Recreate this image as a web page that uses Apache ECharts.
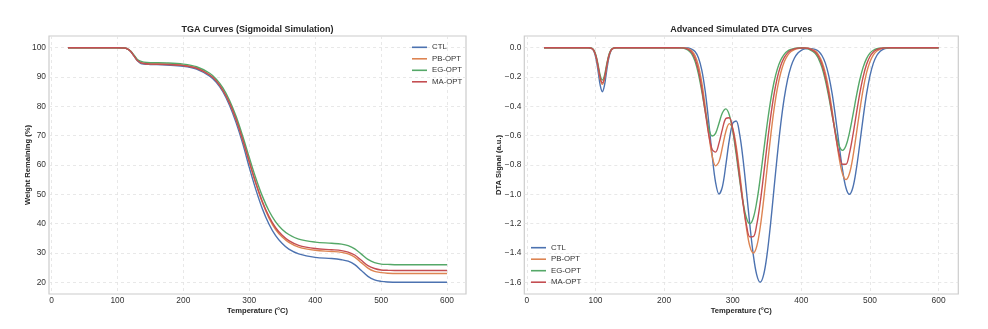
<!DOCTYPE html>
<html>
<head>
<meta charset="utf-8">
<script src="https://cdn.jsdelivr.net/npm/echarts@6.0.0/dist/echarts.min.js"></script>
<style>
html, body { margin: 0; padding: 0; background: #ffffff; }
#chart { width: 988px; height: 329px; }
</style>
</head>
<body>
<div id="chart"></div>
<script>
// ---------------- data ----------------
const seriesNames = ['CTL', 'PB-OPT', 'EG-OPT', 'MA-OPT'];
const xTicks = [0, 100, 200, 300, 400, 500, 600];
const tgaYTicks = [20, 30, 40, 50, 60, 70, 80, 90, 100];
const dtaYTicks = [-1.6, -1.4, -1.2, -1.0, -0.8, -0.6, -0.4, -0.2, 0.0];

// TGA: temperature (°C) and weight remaining (%)
const tgaTemp = [25, 50, 75, 100, 110, 115, 120, 125, 130, 135, 140, 150, 175, 200, 220, 240,
  250, 260, 270, 280, 290, 300, 310, 320, 330, 340, 350, 360, 375, 400, 425,
  440, 450, 460, 470, 480, 490, 500, 510, 525, 550, 575, 600];
const tgaCTL = [100, 100, 100, 100, 99.9, 99.6, 98.7, 97.2, 95.6, 94.7, 94.4, 94.3, 94.1, 93.7, 92.7, 90.3,
  88.2, 85.0, 80.4, 74.5, 67.4, 59.2, 51.6, 45.0, 39.8, 35.9, 33.2, 31.3, 29.7, 28.5, 28.1,
  27.7, 27.2, 26.0, 24.0, 22.0, 20.8, 20.3, 20.1, 20.0, 20.0, 20.0, 20.0];
const tgaPB = [100, 100, 100, 100, 99.9, 99.6, 98.8, 97.3, 95.8, 95.0, 94.7, 94.5, 94.4, 94.0, 93.1, 90.7,
  88.7, 85.5, 81.2, 75.5, 68.5, 61.0, 53.6, 47.1, 41.9, 38.0, 35.4, 33.6, 32.0, 30.9, 30.5,
  30.2, 29.7, 28.6, 26.7, 24.8, 23.7, 23.3, 23.1, 23.0, 23.0, 23.0, 23.0];
const tgaEG = [100, 100, 100, 100, 99.9, 99.6, 98.9, 97.5, 96.1, 95.4, 95.1, 94.9, 94.8, 94.4, 93.5, 91.3,
  89.3, 86.3, 82.1, 76.6, 69.9, 62.6, 55.5, 49.3, 44.3, 40.6, 38.0, 36.3, 34.7, 33.7, 33.3,
  33.0, 32.5, 31.4, 29.6, 27.8, 26.7, 26.2, 26.1, 26.0, 26.0, 26.0, 26.0];
const tgaMA = [100, 100, 100, 100, 99.9, 99.6, 98.8, 97.3, 95.7, 94.9, 94.6, 94.4, 94.3, 93.9, 93.0, 90.7,
  88.7, 85.5, 81.2, 75.6, 68.7, 61.2, 53.9, 47.5, 42.4, 38.6, 36.0, 34.2, 32.6, 31.5, 31.1,
  30.8, 30.3, 29.3, 27.5, 25.7, 24.7, 24.2, 24.1, 24.0, 24.0, 24.0, 24.0];

// DTA: temperature (°C) and signal (a.u.)
const dtaTemp = [25, 50, 75, 85, 90, 95, 98, 101, 104, 107, 110, 113, 116, 119, 122, 125, 130, 135, 150, 175, 200,
  210, 220, 225, 230, 235, 240, 245, 250, 255, 260, 265, 270, 275, 280, 285, 290, 295, 300, 305, 310,
  315, 320, 325, 330, 335, 340, 345, 350, 355, 360, 365, 370, 375, 380, 385, 390, 395, 400,
  405, 410, 420, 425, 430, 435, 440, 445, 450, 455, 460, 465, 470, 475, 480, 485, 490, 495, 500,
  505, 510, 515, 520, 525, 530,
  540, 550, 575, 600];
const dtaCTL = [0, 0, 0, 0, 0, -0.007, -0.028, -0.079, -0.166, -0.259, -0.300, -0.259, -0.166, -0.079, -0.028, -0.007, 0, 0, 0, 0, 0,
  0, 0, 0, -0.001, -0.002, -0.009, -0.026, -0.068, -0.154, -0.300, -0.505, -0.733, -0.918, -0.998, -0.947, -0.799, -0.631, -0.516, -0.500, -0.588,
  -0.759, -0.979, -1.210, -1.413, -1.550, -1.600, -1.550, -1.412, -1.208, -0.970, -0.733, -0.520, -0.346, -0.216, -0.127, -0.070, -0.036, -0.018,
  -0.008, -0.005, -0.011, -0.024, -0.053, -0.105, -0.192, -0.317, -0.480, -0.662, -0.832, -0.955, -1.000, -0.955, -0.832, -0.662, -0.480, -0.317, -0.192,
  -0.105, -0.053, -0.024, -0.010, -0.004, -0.001,
  0, 0, 0, 0];
const dtaPB = [0, 0, 0, 0, 0, -0.006, -0.023, -0.066, -0.138, -0.216, -0.250, -0.216, -0.138, -0.066, -0.023, -0.006, 0, 0, 0, 0, 0,
  0, 0, 0, -0.002, -0.007, -0.021, -0.054, -0.123, -0.240, -0.403, -0.586, -0.737, -0.806, -0.777, -0.678, -0.571, -0.518, -0.551, -0.670, -0.848,
  -1.048, -1.229, -1.355, -1.400, -1.355, -1.227, -1.041, -0.827, -0.615, -0.428, -0.279, -0.171, -0.098, -0.052, -0.026, -0.012, -0.005, -0.002,
  -0.001, -0.003, -0.022, -0.048, -0.095, -0.172, -0.285, -0.432, -0.595, -0.749, -0.860, -0.900, -0.860, -0.749, -0.595, -0.432, -0.285, -0.172, -0.095,
  -0.048, -0.022, -0.009, -0.003, -0.001, 0,
  0, 0, 0, 0];
const dtaEG = [0, 0, 0, 0, 0, -0.005, -0.020, -0.058, -0.121, -0.190, -0.220, -0.190, -0.121, -0.058, -0.020, -0.005, 0, 0, 0, 0, 0,
  0, 0, -0.001, -0.005, -0.016, -0.040, -0.091, -0.178, -0.300, -0.436, -0.549, -0.602, -0.584, -0.515, -0.444, -0.417, -0.458, -0.568, -0.725, -0.898,
  -1.054, -1.161, -1.200, -1.161, -1.052, -0.893, -0.709, -0.527, -0.367, -0.239, -0.146, -0.084, -0.045, -0.022, -0.011, -0.005, -0.002, -0.002,
  -0.003, -0.007, -0.037, -0.074, -0.134, -0.222, -0.336, -0.463, -0.582, -0.669, -0.700, -0.669, -0.582, -0.463, -0.336, -0.222, -0.134, -0.074, -0.037,
  -0.017, -0.007, -0.003, -0.001, 0, 0,
  0, 0, 0, 0];
const dtaMA = [0, 0, 0, 0, 0, -0.006, -0.022, -0.063, -0.132, -0.207, -0.240, -0.207, -0.132, -0.063, -0.022, -0.006, 0, 0, 0, 0, 0,
  0, 0, -0.001, -0.003, -0.011, -0.030, -0.074, -0.155, -0.280, -0.438, -0.592, -0.694, -0.712, -0.651, -0.555, -0.483, -0.478, -0.554, -0.698, -0.880,
  -1.062, -1.208, -1.290, -1.289, -1.207, -1.058, -0.869, -0.668, -0.481, -0.324, -0.204, -0.121, -0.067, -0.035, -0.017, -0.008, -0.003, -0.002,
  -0.002, -0.005, -0.029, -0.060, -0.115, -0.200, -0.316, -0.456, -0.600, -0.722, -0.795, -0.795, -0.722, -0.600, -0.456, -0.316, -0.200, -0.115, -0.060,
  -0.029, -0.013, -0.005, -0.002, -0.001, 0,
  0, 0, 0, 0];

// ---------------- styling ----------------
const colors = ['#4C72B0', '#DD8452', '#55A868', '#C44E52'];
const FONT = 'Liberation Sans, Arial, sans-serif';
const TEXT = '#262626';

function zip(xs, ys) { return ys.map((v, i) => [xs[i], v]); }
function fmtMinus(v) {
  const s = Math.abs(v).toFixed(1);
  return (v < -1e-9 ? '\u2212' : '') + s;
}

const gridLine = { show: true, lineStyle: { color: '#e3e3e3', width: 0.8, type: [3, 3] } };
const nameStyle = { fontFamily: FONT, fontSize: 7.6, fontWeight: 'bold', color: TEXT };
const tickStyle = { fontFamily: FONT, fontSize: 8.4, color: '#333333', margin: 3 };

function xAxisCfg(gridIndex) {
  return {
    type: 'value', gridIndex, min: -3.75, max: 628.75,
    name: 'Temperature (°C)', nameLocation: 'middle', nameGap: 13, nameMoveOverlap: false,
    nameTextStyle: nameStyle,
    axisLine: { show: false }, axisTick: { show: false, customValues: xTicks },
    axisLabel: Object.assign({ customValues: xTicks }, tickStyle),
    splitLine: gridLine
  };
}

function legendCfg(left, top, w) {
  return {
    data: seriesNames.map(n => ({ name: n, icon: 'rect' })), orient: 'vertical', left, top,
    padding: 0, itemWidth: w, itemHeight: 1.6, itemGap: 3.5,
    textStyle: { fontFamily: FONT, fontSize: 7.8, color: '#333', lineHeight: 8 },
    selectedMode: false
  };
}

const option = {
  animation: false,
  backgroundColor: '#ffffff',
  color: colors,
  title: [
    { text: 'TGA Curves (Sigmoidal Simulation)', left: 257.5, top: 25, textAlign: 'center', padding: 0,
      textStyle: { fontFamily: FONT, fontSize: 9, fontWeight: 'bold', color: TEXT } },
    { text: 'Advanced Simulated DTA Curves', left: 741.3, top: 25, textAlign: 'center', padding: 0,
      textStyle: { fontFamily: FONT, fontSize: 9, fontWeight: 'bold', color: TEXT } }
  ],
  legend: [legendCfg(412, 43.3, 15), legendCfg(531, 243.7, 15)],
  grid: [
    { left: 49, top: 36, width: 417, height: 258, show: true, borderColor: '#cccccc', borderWidth: 1.2, backgroundColor: 'transparent' },
    { left: 524.3, top: 36, width: 434, height: 258, show: true, borderColor: '#cccccc', borderWidth: 1.2, backgroundColor: 'transparent' }
  ],
  xAxis: [xAxisCfg(0), xAxisCfg(1)],
  yAxis: [
    { type: 'value', gridIndex: 0, min: 16, max: 104,
      name: 'Weight Remaining (%)', nameLocation: 'middle', nameGap: 17, nameMoveOverlap: false,
      nameTextStyle: nameStyle,
      axisLine: { show: false }, axisTick: { show: false, customValues: tgaYTicks },
      axisLabel: Object.assign({ customValues: tgaYTicks }, tickStyle),
      splitLine: gridLine },
    { type: 'value', gridIndex: 1, min: -1.68, max: 0.08,
      name: 'DTA Signal (a.u.)', nameLocation: 'middle', nameGap: 21, nameMoveOverlap: false,
      nameTextStyle: nameStyle,
      axisLine: { show: false }, axisTick: { show: false, customValues: dtaYTicks },
      axisLabel: Object.assign({ customValues: dtaYTicks, formatter: v => fmtMinus(v) }, tickStyle),
      splitLine: gridLine }
  ],
  series: []
};

const tgaSets = [tgaCTL, tgaPB, tgaEG, tgaMA];
const dtaSets = [dtaCTL, dtaPB, dtaEG, dtaMA];
seriesNames.forEach((name, i) => {
  option.series.push({
    name, type: 'line', xAxisIndex: 0, yAxisIndex: 0, data: zip(tgaTemp, tgaSets[i]),
    symbol: 'none', smooth: 0.35, lineStyle: { width: 1.4, color: colors[i] }, itemStyle: { color: colors[i] }, z: 2 + i
  });
});
seriesNames.forEach((name, i) => {
  option.series.push({
    name, type: 'line', xAxisIndex: 1, yAxisIndex: 1, data: zip(dtaTemp, dtaSets[i]),
    symbol: 'none', smooth: 0.35, lineStyle: { width: 1.4, color: colors[i] }, itemStyle: { color: colors[i] }, z: 2 + i
  });
});

const chart = echarts.init(document.getElementById('chart'), null, { renderer: 'canvas' });
chart.setOption(option);
</script>
</body>
</html>
